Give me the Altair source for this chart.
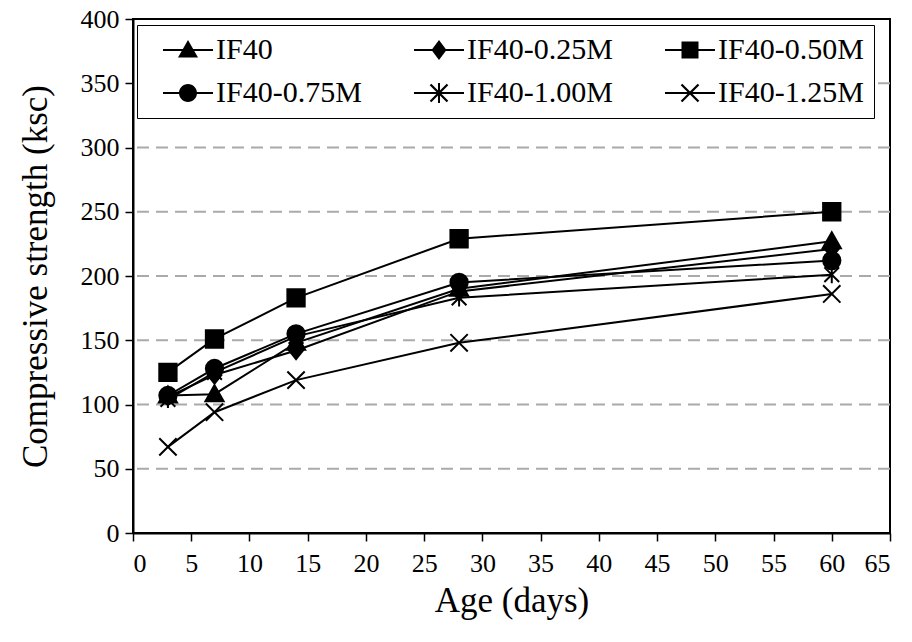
import altair as alt
import pandas as pd

days = [3, 7, 14, 28, 60]
series_names = ["IF40", "IF40-0.25M", "IF40-0.50M", "IF40-0.75M", "IF40-1.00M", "IF40-1.25M"]
if40 = [107, 108, 148, 190, 227]
if40_025 = [106, 123, 142, 188, 221]
if40_050 = [125, 151, 183, 229, 250]
if40_075 = [107, 128, 155, 195, 212]
if40_100 = [104, 125, 153, 183, 201]
if40_125 = [67, 94, 119, 148, 186]
grid_values = [50, 100, 150, 200, 250, 300, 350]
x_ticks = list(range(0, 66, 5))
y_ticks = list(range(0, 401, 50))

all_vals = [if40, if40_025, if40_050, if40_075, if40_100, if40_125]
rows = []
for name, vals in zip(series_names, all_vals):
    for d, v in zip(days, vals):
        rows.append({"series": name, "series_l": name, "age": d, "strength": v})
df = pd.DataFrame(rows)
grid_df = pd.DataFrame({"strength": grid_values})

# marker shapes (chart)
tri = "M0,-1.05L1.05,0.8L-1.05,0.8Z"
dia = "M0,-1L0.8,0L0,1L-0.8,0Z"
sq = "M-1,-1L1,-1L1,1L-1,1Z"
circ = "M1,0A1,1,0,1,1,-1,0A1,1,0,1,1,1,0Z"
star = "M0,-1L0,1M-0.85,-0.85L0.85,0.85M-0.85,0.85L0.85,-0.85"
cross = "M-1,-1L1,1M-1,1L1,-1"
shapes = [tri, dia, sq, circ, star, cross]

# legend symbols: filled polygons (line segment + marker)
h = 0.1
seg = f"M-2.5,{-h}L2.5,{-h}L2.5,{h}L-2.5,{h}Z"
a, d = 0.85, 0.08
diag1 = f"M{-a+d},{-a-d}L{a+d},{a-d}L{a-d},{a+d}L{-a-d},{-a+d}Z"
diag2 = f"M{-a+d},{a+d}L{-a-d},{a-d}L{a-d},{-a-d}L{a+d},{-a+d}Z"
vert = f"M{-h},-1L{h},-1L{h},1L{-h},1Z"
l_tri = "M0,-1L1,0.75L-1,0.75Z"
l_dia = "M0,-1L0.75,0L0,1L-0.75,0Z"
l_sq = "M-0.85,-0.85L0.85,-0.85L0.85,0.85L-0.85,0.85Z"
l_circ = "M0.9,0A0.9,0.9,0,1,1,-0.9,0A0.9,0.9,0,1,1,0.9,0Z"
legend_shapes = [seg + l_tri, seg + l_dia, seg + l_sq, seg + l_circ,
                 seg + vert + diag1 + diag2, seg + diag1 + diag2]

FONT = "Liberation Serif, Times New Roman, serif"

axis_style = dict(labelFont=FONT, titleFont=FONT, labelFontSize=26, titleFontSize=35,
                  labelColor="black", titleColor="black", titleFontWeight="normal",
                  domainColor="black", domainWidth=2, tickColor="black", tickWidth=1.5,
                  grid=False, tickSize=8)

x_enc = alt.X("age:Q", scale=alt.Scale(domain=[0, 65], nice=False),
              axis=alt.Axis(values=x_ticks, title="Age (days)",
                            labelPadding=9, titlePadding=7, **axis_style))
y_enc = alt.Y("strength:Q", scale=alt.Scale(domain=[0, 400], nice=False),
              axis=alt.Axis(values=y_ticks, title="Compressive strength (ksc)",
                            labelPadding=6, titlePadding=27, **axis_style))

grid = alt.Chart(grid_df).mark_rule(color="#aaaaaa", strokeWidth=2, strokeDash=[12, 7]).encode(
    y=y_enc
)

lines = alt.Chart(df).mark_line(color="black", strokeWidth=2).encode(
    x=x_enc, y=y_enc, detail="series:N"
)

points = alt.Chart(df).mark_point(filled=True, fill="black", stroke="black", strokeWidth=2,
                                  size=300, opacity=1).encode(
    x=x_enc, y=y_enc,
    shape=alt.Shape("series:N", scale=alt.Scale(domain=series_names, range=shapes), legend=None),
)

legend_layer = alt.Chart(df).mark_point(filled=True, fill="black", size=400, opacity=0).encode(
    x=x_enc, y=y_enc,
    shape=alt.Shape("series_l:N", scale=alt.Scale(domain=series_names, range=legend_shapes),
                    legend=alt.Legend(title=None, orient="none", legendX=4, legendY=6,
                                      columns=3, direction="horizontal",
                                      symbolOpacity=1, symbolSize=400,
                                      symbolFillColor="black", symbolStrokeWidth=0,
                                      labelFont=FONT, labelFontSize=30, labelColor="black",
                                      labelOffset=13, columnPadding=36, rowPadding=13,
                                      padding=10, symbolOffset=26,
                                      strokeColor="black", fillColor="white",
                                      labelLimit=400)),
)

chart = alt.layer(grid, lines, points, legend_layer).resolve_scale(
    shape="independent"
).resolve_legend(shape="independent").properties(
    width=757, height=514,
    background="white",
    autosize=alt.AutoSizeParams(type="none"),
    padding={"left": 125, "top": 11, "right": 14, "bottom": 101},
).configure_view(stroke="black", strokeWidth=2)

chart.save("out.html", embed_options={"renderer": "svg", "actions": False})
